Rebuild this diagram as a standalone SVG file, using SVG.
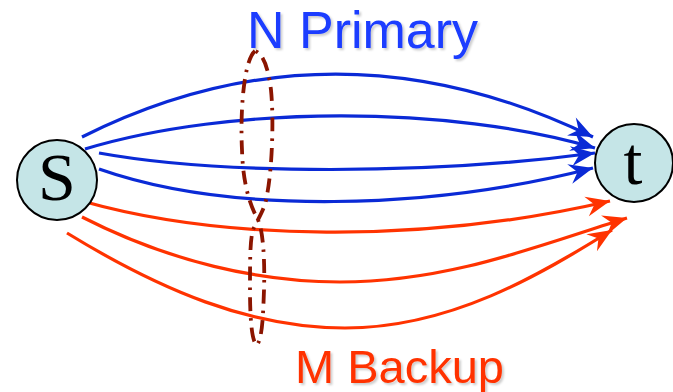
<svg xmlns="http://www.w3.org/2000/svg" width="673" height="392" viewBox="0 0 673 392">
<defs>
<style>
.node{fill:#C5E5E7;stroke:#000;stroke-width:2}
.lbl{font-family:"Liberation Serif","Times New Roman",serif;fill:#000;text-anchor:middle}
.title{font-family:"Liberation Sans",Arial,sans-serif}
.blue{fill:none;stroke:#0A2AD6;stroke-width:3.2;marker-end:url(#ab)}
.red{fill:none;stroke:#FF3300;stroke-width:3.2;marker-end:url(#ar)}
</style>
<marker id="ab" markerUnits="userSpaceOnUse" viewBox="-26 -12 28 24" refX="0" refY="0" markerWidth="28" markerHeight="24" orient="auto">
<path d="M0,0 L-24,-10 L-16,0 L-24,10 Z" fill="#0A2AD6"/>
</marker>
<marker id="ar" markerUnits="userSpaceOnUse" viewBox="-26 -12 28 24" refX="0" refY="0" markerWidth="28" markerHeight="24" orient="auto">
<path d="M0,0 L-24,-10 L-16,0 L-24,10 Z" fill="#FF3300"/>
</marker>
<filter id="sh" x="-5%" y="-20%" width="115%" height="150%">
<feDropShadow dx="2" dy="2" stdDeviation="1" flood-color="#000" flood-opacity="0.2"/>
</filter>
</defs>
<g id="connectors">
<path class="blue" d="M82,137 C250,53 420,53 593,137"/>
<path class="blue" d="M85,149 C230,105 450,105 595,148"/>
<path class="blue" d="M99,153 C220,175 430,175 595,153"/>
<path class="blue" d="M99,169 C230,215 430,210 593,168"/>
<path class="red" d="M82,201 C220,240 420,245 610,201"/>
<path class="red" d="M82,217 C170,262 260,282 340,282 C450,282 540,245 627,218"/>
<path class="red" d="M67,233 C160,290 250,328 345,328 C450,328 540,275 612,230"/>
</g>
<g id="cut">
<path d="M255,51 C244,60 240,110 242,150 C243,185 250,205 258,220 C263,230 265,260 264,290 C263,320 262,338 257,345 C252,343 250,320 250,290 C250,260 250,240 253,230 C257,220 265,210 267,195 C272,170 274,120 271,90 C268,65 262,53 255,51 Z" fill="none" stroke="#8B1500" stroke-width="3.8" stroke-dasharray="14 7 2.5 7"/>
</g>
<g id="node-s">
<circle class="node" cx="57" cy="180" r="40"/>
<text class="lbl" x="57" y="200" font-size="68">S</text>
</g>
<g id="node-t">
<circle class="node" cx="634" cy="163" r="39"/>
<text class="lbl" x="633" y="184" font-size="68">t</text>
</g>
<g id="label-primary">
<text class="title" x="247" y="48" font-size="52" fill="#1A3CFF" filter="url(#sh)">N Primary</text>
</g>
<g id="label-backup">
<text class="title" x="295" y="383" font-size="47" fill="#FF3300" filter="url(#sh)">M Backup</text>
</g>
</svg>
